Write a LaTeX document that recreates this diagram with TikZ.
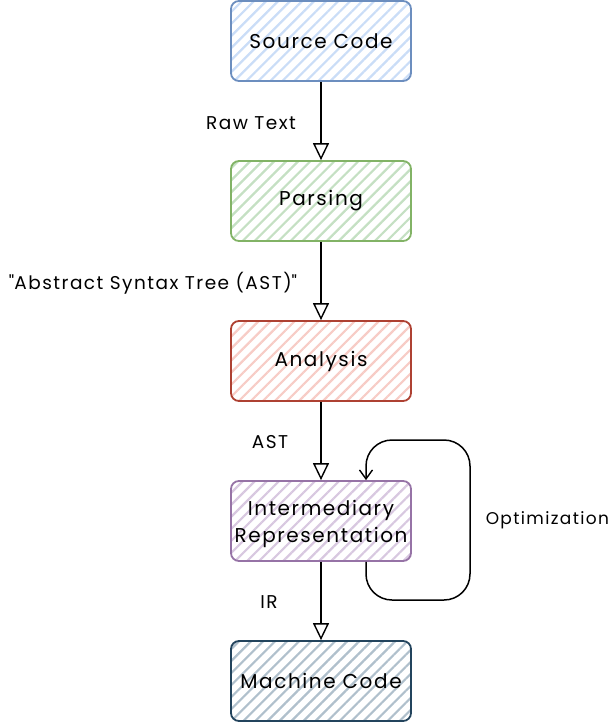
\documentclass[tikz,border=0pt]{standalone}
\usepackage{fontspec}
\setmainfont{Poppins}[LetterSpace=8]
\usetikzlibrary{arrows.meta,patterns.meta}
\definecolor{blueF}{HTML}{CADDF7}\definecolor{blueS}{HTML}{6C8EBF}
\definecolor{greenF}{HTML}{C5E0C3}\definecolor{greenS}{HTML}{82B366}
\definecolor{redF}{HTML}{F7CCC6}\definecolor{redS}{HTML}{AE4132}
\definecolor{purpleF}{HTML}{D8C8E0}\definecolor{purpleS}{HTML}{9673A6}
\definecolor{slateF}{HTML}{B0C0CC}\definecolor{slateS}{HTML}{23445D}
\tikzset{
  stage/.style={draw=#1S, line width=1.8pt, rounded corners=8pt,
    pattern={Lines[angle=45,distance=8.5pt,line width=2.2pt]}, pattern color=#1F,
    minimum width=180pt, minimum height=80pt, align=center,
    font=\fontsize{20}{29}\selectfont, inner sep=2pt},
  flow/.style={draw=black, line width=1.5pt, -{Triangle[open,length=17pt,width=16pt,line width=1.4pt]}},
  loopback/.style={draw=black, line width=1.5pt, rounded corners=26pt,
    -{Straight Barb[length=9pt,width=13pt,line width=1.4pt]}},
  lbl/.style={font=\fontsize{18.5}{22}\selectfont, inner sep=1pt}
}
\begin{document}
\begin{tikzpicture}[x=1pt,y=-1pt]
\useasboundingbox (0,0) rectangle (616,724);
\node[stage=blue]   (src)   at (321,41)  {Source Code};
\node[stage=green]  (parse) at (321,201) {Parsing};
\node[stage=red]    (ana)   at (321,361) {Analysis};
\node[stage=purple] (ir)    at (321,521) {\raisebox{-3pt}[\height][\depth]{\shortstack{Intermediary\\[4pt]Representation}}};
\node[stage=slate]  (mc)    at (321,681) {Machine Code};
\draw[flow] (src) -- (parse) node[lbl, midway, xshift=-70pt, yshift=-2pt] (l1) {Raw Text};
\draw[flow] (parse) -- (ana) node[lbl, midway, xshift=-168pt, yshift=-2pt] (l2) {\textquotedbl Abstract Syntax Tree (AST)\textquotedbl};
\draw[flow] (ana) -- (ir) node[lbl, midway, xshift=-51pt, yshift=-1pt] (l3) {AST};
\draw[flow] (ir) -- (mc) node[lbl, midway, xshift=-52pt, yshift=-1pt] (l4) {IR};
\coordinate (lb) at (470,600);
\coordinate (lt) at (470,440);
\draw[loopback] ([xshift=45pt]ir.south) |- (lb) -- (lt) node[lbl, midway, anchor=west, xshift=14pt, font=\fontsize{17}{20}\selectfont] (l5) {Optimization} -| ([xshift=45pt]ir.north);
\end{tikzpicture}
\end{document}
